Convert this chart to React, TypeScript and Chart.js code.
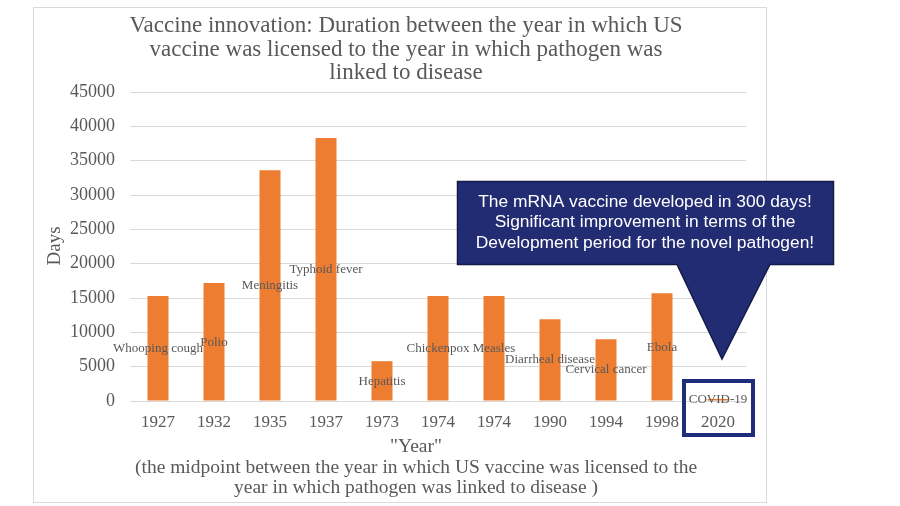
import React, { useEffect, useRef } from "react";
import { Chart, registerables } from "chart.js";

Chart.register(...registerables);

const YEARS = ["1927", "1932", "1935", "1937", "1973", "1974", "1974", "1990", "1994", "1998", "2020"];
const DISEASES = [
  "Whooping cough", "Polio", "Meningitis", "Typhoid fever", "Hepatitis", "Chickenpox",
  "Measles", "Diarrheal disease", "Cervical cancer", "Ebola", "COVID-19",
];
const DAYS = [15300, 17200, 33600, 38300, 5800, 15300, 15300, 11900, 9000, 15700, 300];
// value (in days) at which each disease label sits
const LABEL_ANCHOR = [7570, 8450, 16750, 19080, 2770, 7570, 7570, 5970, 4510, 7720, 150];

const Y_MAX = 45000;
const Y_STEP = 5000;

const TITLE_LINES = [
  "Vaccine innovation: Duration between the year in which US",
  "vaccine was licensed to the year in which pathogen was",
  "linked to disease",
];
const Y_TITLE = "Days";
const X_TITLE_LINES = [
  '"Year"',
  "(the midpoint between the year in which US vaccine was licensed to the",
  "year in which pathogen was linked to disease )",
];
const CALLOUT_LINES = [
  "The mRNA vaccine developed in 300 days!",
  "Significant improvement in terms of the",
  "Development period for the novel pathogen!",
];

const SERIF = "'Liberation Serif', 'DejaVu Serif', serif";
const SANS = "'Liberation Sans', Arial, sans-serif";
const GRAY = "#595959";

const overlayPlugin = {
  id: "overlay",
  beforeDraw(chart: any) {
    const ctx = chart.ctx;
    ctx.save();
    ctx.fillStyle = "#ffffff";
    ctx.fillRect(0, 0, chart.width, chart.height);
    ctx.strokeStyle = "#D9D9D9";
    ctx.lineWidth = 1;
    ctx.strokeRect(33.5, 7.5, 733, 495);
    ctx.restore();
  },
  afterDraw(chart: any) {
    const ctx = chart.ctx;
    const xs = chart.scales.x;
    const ys = chart.scales.y;
    ctx.save();
    ctx.fillStyle = GRAY;
    ctx.textAlign = "center";
    ctx.textBaseline = "middle";

    // main title
    ctx.font = `23px ${SERIF}`;
    TITLE_LINES.forEach((t, i) => ctx.fillText(t, 406, 26 + i * 23.5));

    // y axis title
    ctx.save();
    ctx.translate(55, 246);
    ctx.rotate(-Math.PI / 2);
    ctx.font = `19px ${SERIF}`;
    ctx.fillText(Y_TITLE, 0, 0);
    ctx.restore();

    // x axis title lines
    ctx.font = `19.5px ${SERIF}`;
    X_TITLE_LINES.forEach((t, i) => ctx.fillText(t, 416, 447 + i * 20.5));

    // disease labels
    ctx.font = `13px ${SERIF}`;
    DISEASES.forEach((d, i) => {
      ctx.fillText(d, xs.getPixelForValue(i), ys.getPixelForValue(LABEL_ANCHOR[i]));
    });

    // COVID-19 highlight box
    const cx = xs.getPixelForValue(YEARS.length - 1);
    ctx.strokeStyle = "#1F2D7B";
    ctx.lineWidth = 4;
    ctx.strokeRect(cx - 34, 381, 69, 54);

    // callout
    const tipX = cx + 4;
    ctx.beginPath();
    ctx.moveTo(457.5, 181.5);
    ctx.lineTo(833.5, 181.5);
    ctx.lineTo(833.5, 264.5);
    ctx.lineTo(770, 264.5);
    ctx.lineTo(tipX, 359);
    ctx.lineTo(677, 264.5);
    ctx.lineTo(457.5, 264.5);
    ctx.closePath();
    ctx.fillStyle = "#222C72";
    ctx.fill();
    ctx.strokeStyle = "#141B4A";
    ctx.lineWidth = 1.5;
    ctx.stroke();

    ctx.fillStyle = "#ffffff";
    ctx.font = `17.4px ${SANS}`;
    CALLOUT_LINES.forEach((t, i) => ctx.fillText(t, 645, 202 + i * 20.5));
    ctx.restore();
  },
};

export default function App() {
  const ref = useRef<HTMLCanvasElement | null>(null);

  useEffect(() => {
    document.body.style.margin = "0";
    const canvas = ref.current;
    if (!canvas) return;
    const chart = new Chart(canvas, {
      type: "bar",
      data: {
        labels: YEARS,
        datasets: [
          {
            label: Y_TITLE,
            data: DAYS,
            backgroundColor: "#ED7D31",
            borderWidth: 0,
            barPercentage: 0.375,
            categoryPercentage: 1,
          },
        ],
      },
      options: {
        animation: false,
        responsive: true,
        maintainAspectRatio: false,
        layout: { padding: { left: 0, top: 92, right: 154, bottom: 0 } },
        plugins: {
          legend: { display: false },
          title: { display: false },
          tooltip: { enabled: false },
        },
        scales: {
          x: {
            grid: { display: false },
            border: { display: false },
            ticks: { color: GRAY, font: { family: SERIF, size: 17 }, padding: 3, maxRotation: 0, autoSkip: false },
            afterFit: (s: any) => { s.height = 105; },
          },
          y: {
            min: 0,
            max: Y_MAX,
            grid: { color: "#D9D9D9", drawTicks: false, lineWidth: 1 },
            border: { display: false },
            ticks: {
              stepSize: Y_STEP,
              color: GRAY,
              font: { family: SERIF, size: 18 },
              padding: 15,
              callback: (v: any) => String(v),
            },
            afterFit: (s: any) => { s.width = 130; },
          },
        },
      },
      plugins: [overlayPlugin],
    });
    return () => chart.destroy();
  }, []);

  return (
    <div style={{ position: "fixed", left: 0, top: 0, width: 900, height: 506 }}>
      <canvas ref={ref} />
    </div>
  );
}
